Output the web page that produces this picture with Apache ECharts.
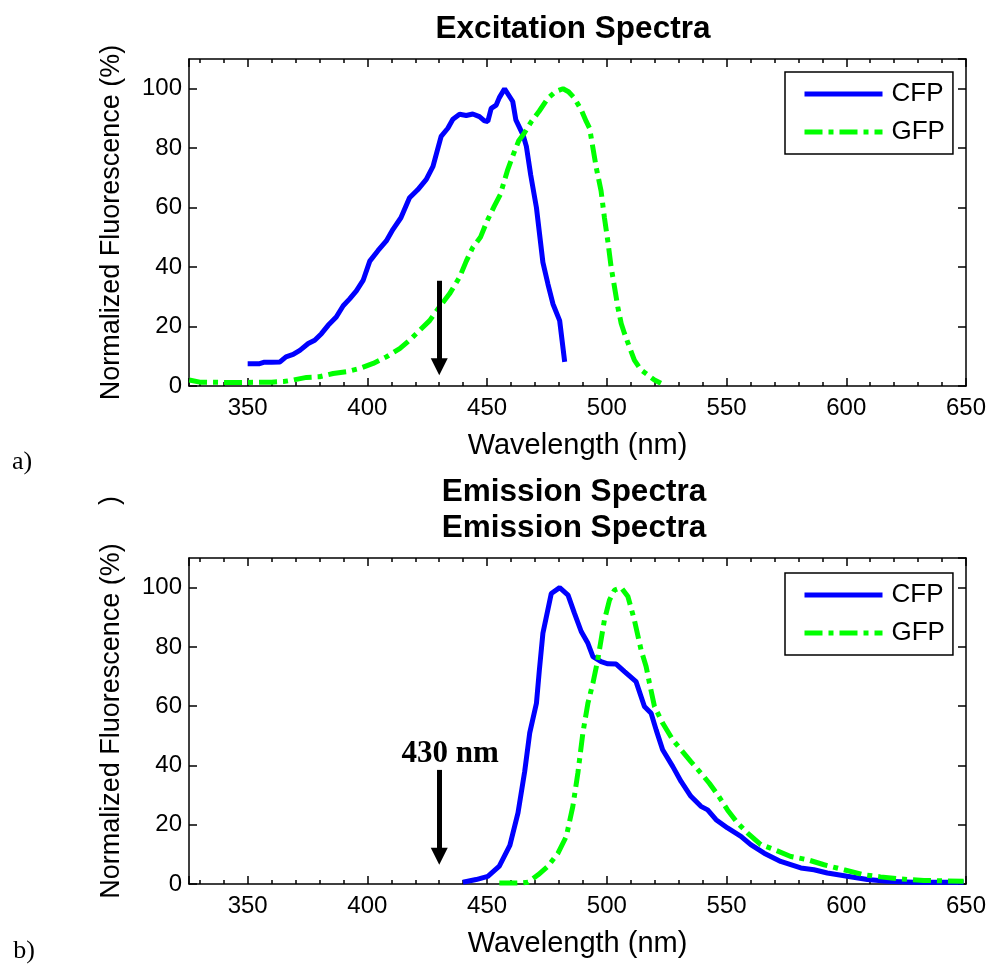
<!DOCTYPE html>
<html>
<head>
<meta charset="utf-8">
<title>Excitation and Emission Spectra</title>
<script src="https://cdn.jsdelivr.net/npm/echarts@6/dist/echarts.min.js"></script>
<style>
html, body { margin: 0; padding: 0; background: #fff; }
#main { width: 991px; height: 967px; }
</style>
</head>
<body>
<div id="main"></div>
<script>
// excitation spectra (top panel)
var excCfpNm = [350, 355, 357, 360, 363.5, 366, 369, 371.8, 375.3, 378, 380.8, 383.6, 387, 389.9, 392.6, 395.4, 398.2, 401, 404.4, 407.9, 410.7, 414, 417.6, 421, 424.6, 427.4, 430.8, 433.6, 435.7, 438.5, 441.3, 444, 446.8, 448.9, 450.3, 451.7, 453.8, 455.1, 457.3, 460.7, 462, 465, 466.4, 468.2, 470.6, 473.3, 475.4, 477.5, 480.3, 482.4];
var excCfpVal = [7.5, 7.5, 8, 8, 8.1, 9.8, 10.6, 12, 14.3, 15.4, 17.6, 20.4, 23.2, 27, 29.3, 32, 35.5, 42, 45.5, 48.8, 52.7, 56.6, 63.3, 66, 69.5, 73.9, 84, 86.7, 89.7, 91.4, 91, 91.5, 90.6, 89.2, 89, 93.4, 94.5, 97, 100, 95.7, 89.5, 84.5, 80.6, 71, 60, 41.6, 34.3, 27.6, 22, 8.1];
var excGfpNm = [325.6, 330, 340, 350, 360, 365, 369, 374.6, 380, 385.7, 391.3, 396.8, 402.4, 407.9, 413.5, 417.6, 421.8, 426, 430, 434.3, 438.5, 441.3, 444, 447.2, 450, 453, 455.5, 458.5, 461, 463.2, 465.5, 468.5, 471.8, 475.4, 478.5, 481.7, 484, 486.5, 489.3, 491.4, 492.8, 495.6, 497.6, 499, 500.4, 501.8, 503.2, 504.6, 506, 507.4, 509.4, 511.5, 514.3, 517.1, 519.9, 522.6];
var excGfpVal = [2, 1.3, 1.2, 1.2, 1.3, 1.5, 2, 2.9, 3.1, 4.2, 4.8, 5.9, 7.6, 9.8, 12.6, 15.4, 18.7, 22, 26.5, 31, 36.6, 42, 46.6, 50, 55.5, 60.5, 64.4, 72.5, 78, 82.5, 85, 89, 92.5, 96.8, 99, 100, 99, 96.8, 92.9, 89, 86.7, 73.4, 65.6, 56.6, 48.8, 40, 33.3, 26.5, 21, 17.6, 13.2, 8.7, 5.4, 3.7, 2, 0.9];

// emission spectra (bottom panel)
var emCfpNm = [439.9, 445.4, 450.3, 455.1, 459.5, 462.9, 465.7, 467.8, 470.6, 471.8, 473.3, 476.8, 480.3, 483.8, 486.5, 489.3, 492.1, 494.2, 497.6, 500.4, 503.9, 507.4, 512.2, 515.7, 518.5, 520.6, 523.3, 527.5, 531, 535.1, 539.3, 542.1, 545.6, 550.4, 556, 560.1, 565.7, 572.6, 581, 586.5, 592.1, 600.4, 608.8, 617.1, 628.2, 649];
var emCfpVal = [0.6, 1.5, 2.6, 6, 13, 24, 38, 51, 61, 72, 84.6, 98, 100, 97.5, 91.3, 85.2, 81.2, 76.7, 75, 74.3, 74.2, 71.7, 68.3, 59.9, 57.6, 52, 45.3, 39.7, 34.6, 29.6, 26.2, 25, 21.7, 18.9, 16.1, 13.3, 10.4, 7.6, 5.4, 4.8, 3.7, 2.6, 1.5, 0.9, 0.6, 0.6];
var emGfpNm = [455.1, 460, 465, 467.1, 471.3, 475.4, 479.6, 483.1, 485.8, 487.9, 490, 492.1, 494.2, 496.2, 497.6, 499, 501.1, 503.2, 506, 508.8, 511.5, 514.3, 516.4, 517.8, 519.9, 523.3, 527.5, 531, 535.1, 539.3, 542.8, 546.3, 550.4, 554.6, 558.8, 564.3, 569.9, 576.8, 583.8, 590.7, 599, 607.4, 614.3, 622.6, 632.4, 649];
var emGfpVal = [0.3, 0.3, 0.4, 0.6, 3.1, 6, 10.4, 16.1, 26.2, 37.4, 51, 61, 67.8, 75.6, 82.4, 89.1, 95.8, 99.2, 100, 97, 89.1, 79, 73.4, 67.8, 59.9, 54.3, 48.7, 45.3, 41.3, 37.4, 34, 30.1, 25, 20.6, 17.2, 13.3, 11.6, 9.3, 8.2, 6.5, 4.8, 3.1, 2.4, 1.7, 1.2, 0.9];

// excitation wavelength arrows (shaft top, shaft end)
var arrowNm = 430;
var excArrowY = [35.4, 6.5];
var emArrowY = [38.5, 9.4];
var arrowLabel = '430 nm';

var titles = ['Excitation Spectra', 'Emission Spectra\nEmission Spectra'];
var legendNames = ['CFP', 'GFP'];

var SANS = '"Liberation Sans", Arial, sans-serif';
var SERIF = '"Liberation Serif", "Times New Roman", serif';
var BLUE = '#0000ff';
var GREEN = '#00ff00';

function pairs(xs, ys) {
    var out = [];
    for (var i = 0; i < xs.length; i++) {
        out.push([xs[i], ys[i]]);
    }
    return out;
}

var tickStyle = {color: '#000', width: 1.5};

function xAxisFor(g, pos) {
    var bottom = pos === 'bottom';
    return {
        type: 'value', gridIndex: g, position: pos,
        min: 325.5, max: 650, minInterval: 50, maxInterval: 50,
        name: bottom ? 'Wavelength (nm)' : '',
        nameLocation: 'middle', nameGap: 45,
        nameTextStyle: {fontSize: 29, color: '#000', fontFamily: SANS},
        axisLine: {onZero: false, lineStyle: tickStyle},
        axisTick: {inside: true, length: 8, lineStyle: tickStyle},
        minorTick: {show: true, splitNumber: 5, length: 4, lineStyle: tickStyle},
        axisLabel: {show: bottom, fontSize: 24, color: '#000', fontFamily: SANS, margin: 10, showMinLabel: false},
        splitLine: {show: false}
    };
}

function yAxisFor(g, pos) {
    var left = pos === 'left';
    return {
        type: 'value', gridIndex: g, position: pos,
        min: 0, max: 110, interval: 20,
        name: left ? 'Normalized Fluorescence (%)' : '',
        nameLocation: 'middle', nameGap: 64, nameRotate: 90,
        nameTextStyle: {fontSize: 27, color: '#000', fontFamily: SANS},
        axisLine: {onZero: false, lineStyle: tickStyle},
        axisTick: {inside: true, length: 8, lineStyle: tickStyle},
        axisLabel: {show: left, fontSize: 24, color: '#000', fontFamily: SANS, margin: 7, showMaxLabel: false},
        splitLine: {show: false}
    };
}

// only carries the leftover ")" of an older label above the lower panel
var strayAxis = {
    type: 'value', gridIndex: 1, position: 'left', offset: 78,
    min: 0, max: 110,
    name: ')', nameLocation: 'end', nameGap: 53, nameRotate: 90,
    nameTextStyle: {fontSize: 27, color: '#000', fontFamily: SANS},
    axisLine: {show: false}, axisTick: {show: false},
    axisLabel: {show: false}, splitLine: {show: false}
};

function legendFor(top) {
    return {
        orient: 'vertical', left: 785, top: top,
        padding: [9, 8, 9, 17],
        itemWidth: 78, itemHeight: 14, itemGap: 12,
        borderColor: '#000', borderWidth: 1.5, borderRadius: 0,
        backgroundColor: '#fff',
        itemStyle: {opacity: 0},
        lineStyle: {width: 5},
        textStyle: {fontSize: 26, color: '#000', fontFamily: SANS, padding: [0, 0, 0, 4]},
        data: legendNames
    };
}

function arrowFor(ys, withLabel) {
    return {
        silent: true,
        symbol: ['none', 'triangle'],
        symbolSize: 17,
        lineStyle: {type: 'solid', color: '#000', width: 5},
        itemStyle: {color: '#000'},
        label: {
            show: withLabel, position: 'start', formatter: arrowLabel,
            fontFamily: SERIF, fontWeight: 'bold', fontSize: 31, color: '#000',
            distance: 6, offset: [11, 6]
        },
        data: [[{coord: [arrowNm, ys[0]]}, {coord: [arrowNm, ys[1]]}]],
        animation: false
    };
}

var greenDash = [18, 6, 5, 6];

var chart = echarts.init(document.getElementById('main'));
chart.setOption({
    animation: false,
    backgroundColor: '#fff',
    title: [
        {text: titles[0], left: 568, top: 8, textAlign: 'center',
            textStyle: {fontSize: 31.5, fontWeight: 'bold', color: '#000', fontFamily: SANS}},
        {text: titles[1], left: 569, top: 469, textAlign: 'center',
            textStyle: {fontSize: 31.5, fontWeight: 'bold', color: '#000', fontFamily: SANS, lineHeight: 36}}
    ],
    grid: [
        {left: 189, right: 25, top: 59, height: 327, outerBoundsMode: 'none'},
        {left: 189, right: 25, top: 558, height: 326, outerBoundsMode: 'none'}
    ],
    xAxis: [xAxisFor(0, 'bottom'), xAxisFor(0, 'top'), xAxisFor(1, 'bottom'), xAxisFor(1, 'top')],
    yAxis: [yAxisFor(0, 'left'), yAxisFor(0, 'right'), yAxisFor(1, 'left'), yAxisFor(1, 'right'), strayAxis],
    legend: [legendFor(72), legendFor(573)],
    graphic: [
        {type: 'text', x: 22, y: 462, style: {text: 'a)', font: '26px ' + SERIF, fill: '#000', align: 'center', verticalAlign: 'middle'}},
        {type: 'text', x: 24, y: 951, style: {text: 'b)', font: '26px ' + SERIF, fill: '#000', align: 'center', verticalAlign: 'middle'}}
    ],
    series: [
        {type: 'line', name: 'CFP', xAxisIndex: 0, yAxisIndex: 0, data: pairs(excCfpNm, excCfpVal),
            symbol: 'none', lineStyle: {color: BLUE, width: 5}, itemStyle: {color: BLUE},
            markLine: arrowFor(excArrowY, false)},
        {type: 'line', name: 'GFP', xAxisIndex: 0, yAxisIndex: 0, data: pairs(excGfpNm, excGfpVal),
            symbol: 'none', lineStyle: {color: GREEN, width: 5, type: greenDash}, itemStyle: {color: GREEN}},
        {type: 'line', name: 'CFP', xAxisIndex: 2, yAxisIndex: 2, data: pairs(emCfpNm, emCfpVal),
            symbol: 'none', lineStyle: {color: BLUE, width: 5}, itemStyle: {color: BLUE},
            markLine: arrowFor(emArrowY, true)},
        {type: 'line', name: 'GFP', xAxisIndex: 2, yAxisIndex: 2, data: pairs(emGfpNm, emGfpVal),
            symbol: 'none', lineStyle: {color: GREEN, width: 5, type: greenDash}, itemStyle: {color: GREEN}}
    ]
});
</script>
</body>
</html>
